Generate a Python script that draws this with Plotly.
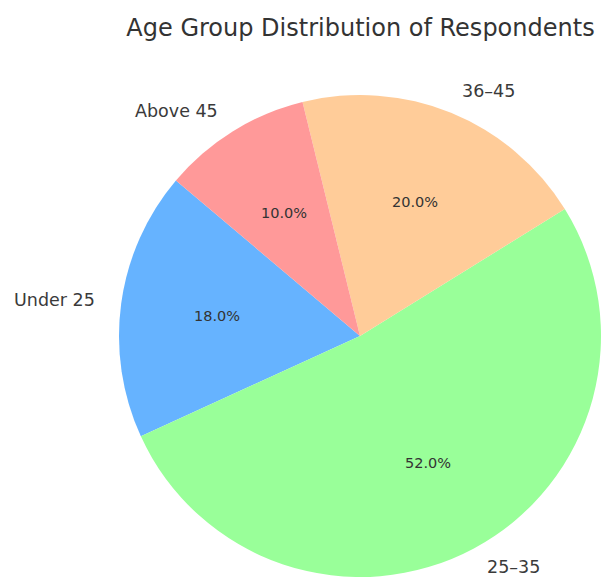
import math
import plotly.graph_objects as go

labels = ["Under 25", "25-35", "36-45", "Above 45"]
display_labels = ["Under 25", "25–35", "36–45", "Above 45"]
values = [18, 52, 20, 10]
colors = ["#66b3ff", "#99ff99", "#ffcc99", "#ff9999"]
start_angle = 139.8  # degrees, math convention, counterclockwise

W, H = 602, 577
cx, cy, r = 360, 336, 241  # pixel center (from top) and radius

total = sum(values)
first_deg = values[0] / total * 360

fig = go.Figure(go.Pie(
    labels=labels, values=values, sort=False,
    direction="counterclockwise", rotation=90 - start_angle - first_deg,
    marker=dict(colors=colors, line=dict(width=0)),
    textinfo="none", showlegend=False, hoverinfo="label+percent",
    domain=dict(x=[(cx - r) / W, (cx + r) / W], y=[(H - cy - r) / H, (H - cy + r) / H]),
))

ann = []
acc = 0.0
for lab, v in zip(display_labels, values):
    mid = math.radians(start_angle + (acc + v / 2) / total * 360)
    acc += v
    c, s = math.cos(mid), math.sin(mid)
    # outer label
    lx, ly = cx + 1.1 * r * c, cy - 1.1 * r * s
    ly = min(ly, H - 10)
    ann.append(dict(x=lx / W, y=1 - ly / H, xref="paper", yref="paper", text=lab,
                    showarrow=False, xanchor="left" if c > 0 else "right", yanchor="middle",
                    font=dict(family="DejaVu Sans", size=17.5, color="#3a3a3a")))
    # percentage
    px, py = cx + 0.6 * r * c, cy - 0.6 * r * s
    ann.append(dict(x=px / W, y=1 - py / H, xref="paper", yref="paper",
                    text=f"{v / total * 100:.1f}%", showarrow=False,
                    xanchor="center", yanchor="middle",
                    font=dict(family="DejaVu Sans", size=14.5, color="#333333")))

fig.update_layout(
    width=W, height=H, margin=dict(l=0, r=0, t=0, b=0),
    paper_bgcolor="white", plot_bgcolor="white",
    title=dict(text="Age Group Distribution of Respondents", x=360.5 / W, xanchor="center",
               y=1 - 28 / H, yanchor="middle", yref="container",
               font=dict(family="DejaVu Sans", size=24, color="#333333")),
    annotations=ann,
)

fig.write_html("out.html")
